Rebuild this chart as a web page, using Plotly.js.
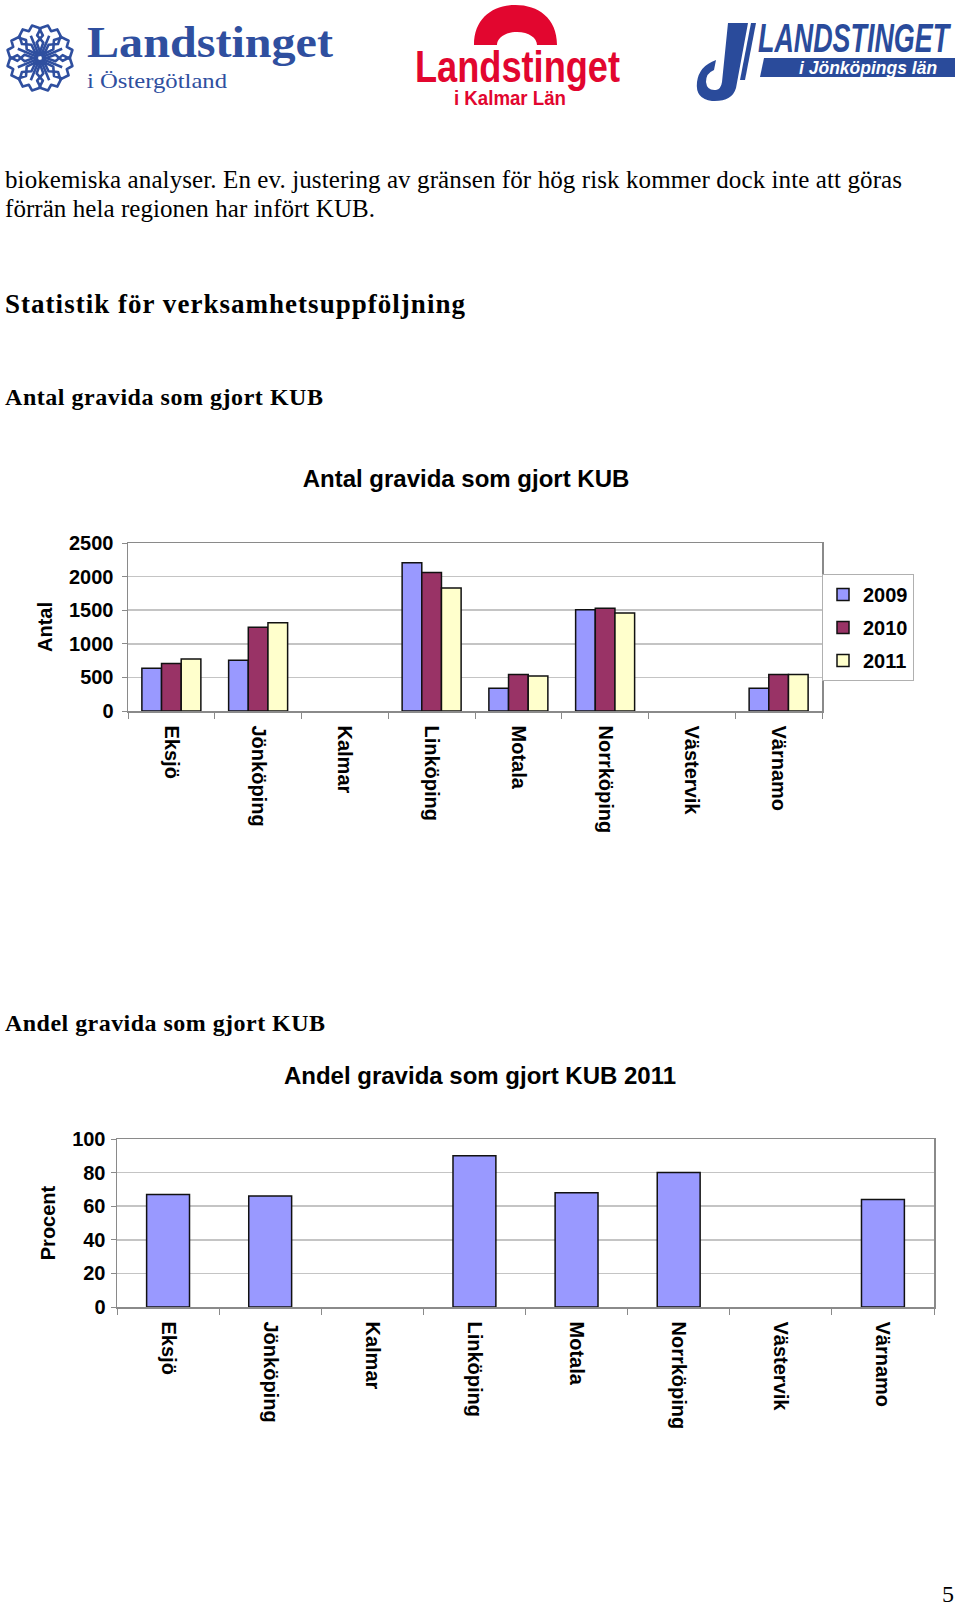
<!DOCTYPE html>
<html>
<head>
<meta charset="utf-8">
<script src="https://cdn.plot.ly/plotly-3.0.1.min.js"></script>
<style>
  html, body { margin: 0; padding: 0; background: #fff; }
  #page { position: relative; width: 960px; height: 1608px; overflow: hidden; }
  #deco { position: absolute; left: 0; top: 0; }
  .chart { position: absolute; outline: 1.5px solid #a0a0a0; outline-offset: -1px; background: #fff; }
  #chart1 { left: 12px; top: 448px; width: 908px; height: 407px; }
  #chart2 { left: 12px; top: 1045px; width: 936px; height: 406px; }
</style>
</head>
<body>
<div id="page">
  <svg id="deco" width="960" height="1608" xmlns="http://www.w3.org/2000/svg">
    <!-- Östergötland -->
    <g id="flake" transform="translate(40,58)" fill="none" stroke="#2f4f9f" stroke-width="2.6" stroke-linejoin="round"></g>
    <text x="87" y="57" font-family="Liberation Serif, Times New Roman, serif" font-weight="bold" font-size="44" fill="#2f4f9f" textLength="246" lengthAdjust="spacingAndGlyphs">Landstinget</text>
    <text x="87" y="88" font-family="Liberation Serif, Times New Roman, serif" font-size="22" fill="#2f4f9f" textLength="140" lengthAdjust="spacingAndGlyphs">i Östergötland</text>

    <!-- Kalmar -->
    <path d="M474,45 C474,18 493,5 515.5,5 C538,5 557,18 557,45 H537 C537,38 529,32 517,32 C505,32 497,38 497,45 Z" fill="#e2062f"/>
    <text x="415" y="82" font-family="Liberation Sans" font-weight="bold" font-size="44" fill="#e2062f" textLength="205" lengthAdjust="spacingAndGlyphs">Landstinget</text>
    <text x="454" y="105" font-family="Liberation Sans" font-weight="bold" font-size="20" fill="#e2062f" textLength="112" lengthAdjust="spacingAndGlyphs">i Kalmar Län</text>

    <!-- Jönköping -->
    <path d="M728,23 H748 L736,88 Q732,102 712,101 Q695,99 697,82 Q699,66 716,60 L714,70 Q706,73 706,82 Q707,91 716,90 Q721,89 722,82 Z" fill="#2a4b9b"/>
    <path d="M751,23 H756 L745,80 H740 Z" fill="#2a4b9b"/>
    <text transform="translate(758,52) scale(0.672,1)" x="0" y="0" font-family="Liberation Sans" font-weight="bold" font-style="italic" font-size="40" fill="#2a4b9b">LANDSTINGET</text>
    <path d="M764,58 H955 V77 H760 Z" fill="#2a4b9b"/>
    <text x="799" y="74" font-family="Liberation Sans" font-weight="bold" font-style="italic" font-size="17.5" fill="#fff">i Jönköpings län</text>

    <!-- body text -->
    <g font-family="Liberation Serif, Times New Roman, serif" fill="#000">
      <text x="5" y="188" font-size="25" textLength="897" lengthAdjust="spacing">biokemiska analyser. En ev. justering av gränsen för hög risk kommer dock inte att göras</text>
      <text x="5" y="217" font-size="25" textLength="370" lengthAdjust="spacing">förrän hela regionen har infört KUB.</text>
      <text x="5" y="313" font-weight="bold" font-size="27" textLength="460" lengthAdjust="spacing">Statistik för verksamhetsuppföljning</text>
      <text x="5" y="405" font-weight="bold" font-size="24" textLength="318" lengthAdjust="spacing">Antal gravida som gjort KUB</text>
      <text x="5" y="1031" font-weight="bold" font-size="24" textLength="320" lengthAdjust="spacing">Andel gravida som gjort KUB</text>
      <text x="942" y="1602" font-size="24">5</text>
    </g>
  </svg>
  <div id="chart1" class="chart"></div>
  <div id="chart2" class="chart"></div>
</div>
<script>
// snowflake petals for the first logo
const flake = document.getElementById('flake');
for (let k = 0; k < 8; k++) {
  const p = document.createElementNS('http://www.w3.org/2000/svg', 'path');
  p.setAttribute('d', 'M0,-3 L-9,-13 L-6,-22 L-12,-27 L-5,-33 L0,-29 L5,-33 L12,-27 L6,-22 L9,-13 Z M0,-3 L0,-24');
  p.setAttribute('transform', 'rotate(' + (k * 45 + 22.5) + ')');
  flake.appendChild(p);
}

const orter = ['Eksjö', 'Jönköping', 'Kalmar', 'Linköping', 'Motala', 'Norrköping', 'Västervik', 'Värnamo'];
const antal2009 = [635, 755, null, 2205, 340, 1505, null, 340];
const antal2010 = [705, 1245, null, 2060, 545, 1530, null, 545];
const antal2011 = [775, 1315, null, 1830, 520, 1460, null, 545];
const andel2011 = [67, 66, null, 90, 68, 80, null, 64];

const FONT = 'Liberation Sans, Arial, sans-serif';
const barLine = { color: '#111', width: 1.5 };

function axisX() {
  return {
    type: 'category',
    tickangle: 90,
    ticks: 'outside',
    tickson: 'boundaries',
    ticklen: 6,
    tickcolor: '#8a8a8a',
    showline: true,
    linecolor: '#8a8a8a',
    linewidth: 1.5,
    mirror: true,
    showgrid: false,
    ticklabelstandoff: 9,
    tickfont: { family: FONT, size: 20, weight: 'bold', color: '#000' }
  };
}

function axisY(range, dtick, title, standoff) {
  return {
    range: range,
    dtick: dtick,
    ticks: 'outside',
    ticklen: 5,
    tickcolor: '#8a8a8a',
    showline: true,
    linecolor: '#8a8a8a',
    linewidth: 1.5,
    mirror: true,
    gridcolor: '#c4c4c4',
    gridwidth: 1.5,
    zeroline: false,
    fixedrange: true,
    ticklabelstandoff: standoff,
    tickfont: { family: FONT, size: 20, weight: 'bold', color: '#000' },
    title: { text: title, font: { family: FONT, size: 20, weight: 'bold', color: '#000' }, standoff: 11 }
  };
}

Plotly.newPlot('chart1', [
  { type: 'bar', name: '2009', legendgroup: 'a', x: orter, y: antal2009, marker: { color: '#9999ff', line: barLine } },
  { type: 'bar', name: '2010', legendgroup: 'b', x: orter, y: antal2010, marker: { color: '#993366', line: barLine } },
  { type: 'bar', name: '2011', legendgroup: 'c', x: orter, y: antal2011, marker: { color: '#ffffcc', line: barLine } }
], {
  width: 908, height: 407,
  margin: { l: 116, r: 98, t: 95, b: 144, autoexpand: false },
  paper_bgcolor: '#fff', plot_bgcolor: '#fff',
  font: { family: FONT, color: '#000' },
  title: {
    text: 'Antal gravida som gjort KUB',
    font: { family: FONT, size: 24, weight: 'bold', color: '#000' },
    x: 0.5, xref: 'container', y: 1 - 31 / 407, yref: 'container', yanchor: 'middle'
  },
  barmode: 'group', bargap: 0.32, bargroupgap: 0,
  xaxis: axisX(),
  yaxis: axisY([0, 2500], 500, 'Antal', 4),
  showlegend: true,
  legend: {
    x: (914 - 128) / 694, xanchor: 'right', y: (711 - 574) / 168, yanchor: 'top',
    bordercolor: '#b0b0b0', borderwidth: 1, bgcolor: '#fff',
    font: { family: FONT, size: 20, weight: 'bold', color: '#000' },
    itemwidth: 30, traceorder: 'grouped', tracegroupgap: 4
  }
}, { displayModeBar: false, staticPlot: true });

Plotly.newPlot('chart2', [
  { type: 'bar', name: '2011', x: orter, y: andel2011, marker: { color: '#9999ff', line: barLine } }
], {
  width: 936, height: 406,
  margin: { l: 105, r: 14, t: 94, b: 144, autoexpand: false },
  paper_bgcolor: '#fff', plot_bgcolor: '#fff',
  font: { family: FONT, color: '#000' },
  title: {
    text: 'Andel gravida som gjort KUB 2011',
    font: { family: FONT, size: 24, weight: 'bold', color: '#000' },
    x: 0.5, xref: 'container', y: 1 - 31 / 406, yref: 'container', yanchor: 'middle'
  },
  bargap: 0.58,
  xaxis: axisX(),
  yaxis: axisY([0, 100], 20, 'Procent', 1),
  showlegend: false
}, { displayModeBar: false, staticPlot: true });
</script>
</body>
</html>
